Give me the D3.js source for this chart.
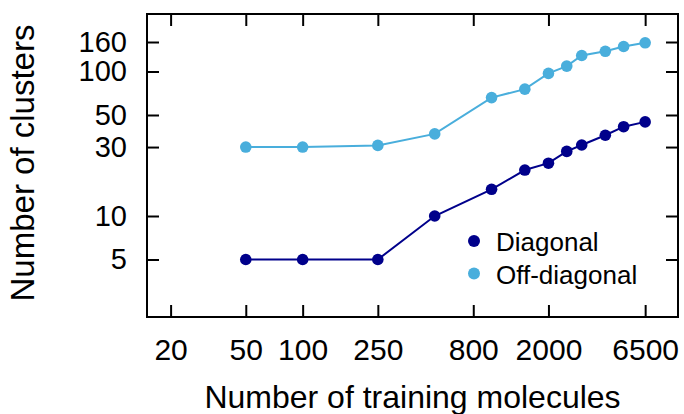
<!DOCTYPE html>
<html>
<head>
<meta charset="utf-8">
<script src="https://cdn.jsdelivr.net/npm/d3@7"></script>
<style>
  html, body { margin: 0; padding: 0; background: #fff; }
  svg { display: block; font-family: "Liberation Sans", Arial, Helvetica, sans-serif; }
</style>
</head>
<body>
<div id="chart"></div>
<script>
// training set sizes
const sizes = [50, 100, 250, 500, 1000, 1500, 2000, 2500, 3000, 4000, 5000, 6500]
const diagonal = [5, 5, 5, 10, 15.3, 20.8, 23.2, 28, 31, 36.2, 41.5, 44.8]
const offDiagonal = [30, 30, 30.8, 37, 66, 75.5, 97, 109, 129, 138, 149, 158]
const xTicks = [20, 50, 100, 250, 800, 2000, 6500]
const yTicks = [5, 10, 30, 50, 100, 160]

const series = [
  { name: "Diagonal", values: diagonal, color: "#00008b" },
  { name: "Off-diagonal", values: offDiagonal, color: "#49aedc" },
]

const width = 684
const height = 414
const margin = { top: 14, right: 6, bottom: 97, left: 147 }
const innerW = width - margin.left - margin.right
const innerH = height - margin.top - margin.bottom

const svg = d3
  .select("#chart")
  .append("svg")
  .attr("width", width)
  .attr("height", height)

const g = svg.append("g").attr("transform", `translate(${margin.left},${margin.top})`)

const x = d3.scaleLog().domain([15, 9700]).range([0, innerW])
const y = d3.scaleLog().domain([2, 250]).range([innerH, 0])

const tickLen = 12

// bottom axis with labels, ticks pointing inward
const xAxis = g
  .append("g")
  .attr("transform", `translate(0,${innerH})`)
  .call(
    d3.axisBottom(x)
      .tickValues(xTicks)
      .tickFormat(d3.format("d"))
      .tickSizeInner(-tickLen)
      .tickSizeOuter(0)
      .tickPadding(22),
  )
xAxis.select(".domain").remove()
xAxis.selectAll("text").attr("font-size", "30px").attr("fill", "#000")

// top ticks
const xTop = g.append("g").call(d3.axisTop(x).tickValues(xTicks).tickSizeInner(-tickLen).tickSizeOuter(0).tickFormat(""))
xTop.select(".domain").remove()

// left axis
const yAxis = g.append("g").call(
  d3.axisLeft(y)
    .tickValues(yTicks)
    .tickFormat(d3.format("d"))
    .tickSizeInner(-tickLen)
    .tickSizeOuter(0)
    .tickPadding(20),
)
yAxis.select(".domain").remove()
yAxis.selectAll("text").attr("font-size", "29px").attr("fill", "#000")

// right ticks
const yRight = g
  .append("g")
  .attr("transform", `translate(${innerW},0)`)
  .call(d3.axisRight(y).tickValues(yTicks).tickSizeInner(-tickLen).tickSizeOuter(0).tickFormat(""))
yRight.select(".domain").remove()

g.selectAll(".tick line").attr("stroke", "#000").attr("stroke-width", 2)

// frame
g.append("rect")
  .attr("width", innerW)
  .attr("height", innerH)
  .attr("fill", "none")
  .attr("stroke", "#000")
  .attr("stroke-width", 2)

// lines and points
const line = d3
  .line()
  .x((d, i) => x(sizes[i]))
  .y((d) => y(d))

series.forEach((s) => {
  g.append("path")
    .datum(s.values)
    .attr("d", line)
    .attr("fill", "none")
    .attr("stroke", s.color)
    .attr("stroke-width", 2)

  g.append("g")
    .selectAll("circle")
    .data(s.values)
    .join("circle")
    .attr("cx", (d, i) => x(sizes[i]))
    .attr("cy", (d) => y(d))
    .attr("r", 5.8)
    .attr("fill", s.color)
})

// legend
const legend = svg.append("g").attr("transform", "translate(474,241)")
series.forEach((s, i) => {
  const row = legend.append("g").attr("transform", `translate(0,${i * 32.5})`)
  row.append("circle").attr("r", 6).attr("fill", s.color)
  row.append("text")
    .attr("x", 22)
    .attr("y", 10)
    .attr("font-size", "26px")
    .attr("fill", "#000")
    .text(s.name)
})

// axis titles
svg.append("text")
  .attr("x", margin.left + innerW / 2)
  .attr("y", 408)
  .attr("text-anchor", "middle")
  .attr("font-size", "32px")
  .attr("fill", "#000")
  .text("Number of training molecules")

svg.append("text")
  .attr("transform", `translate(34,${163}) rotate(-90)`)
  .attr("text-anchor", "middle")
  .attr("font-size", "33px")
  .attr("fill", "#000")
  .text("Number of clusters")
</script>
</body>
</html>
